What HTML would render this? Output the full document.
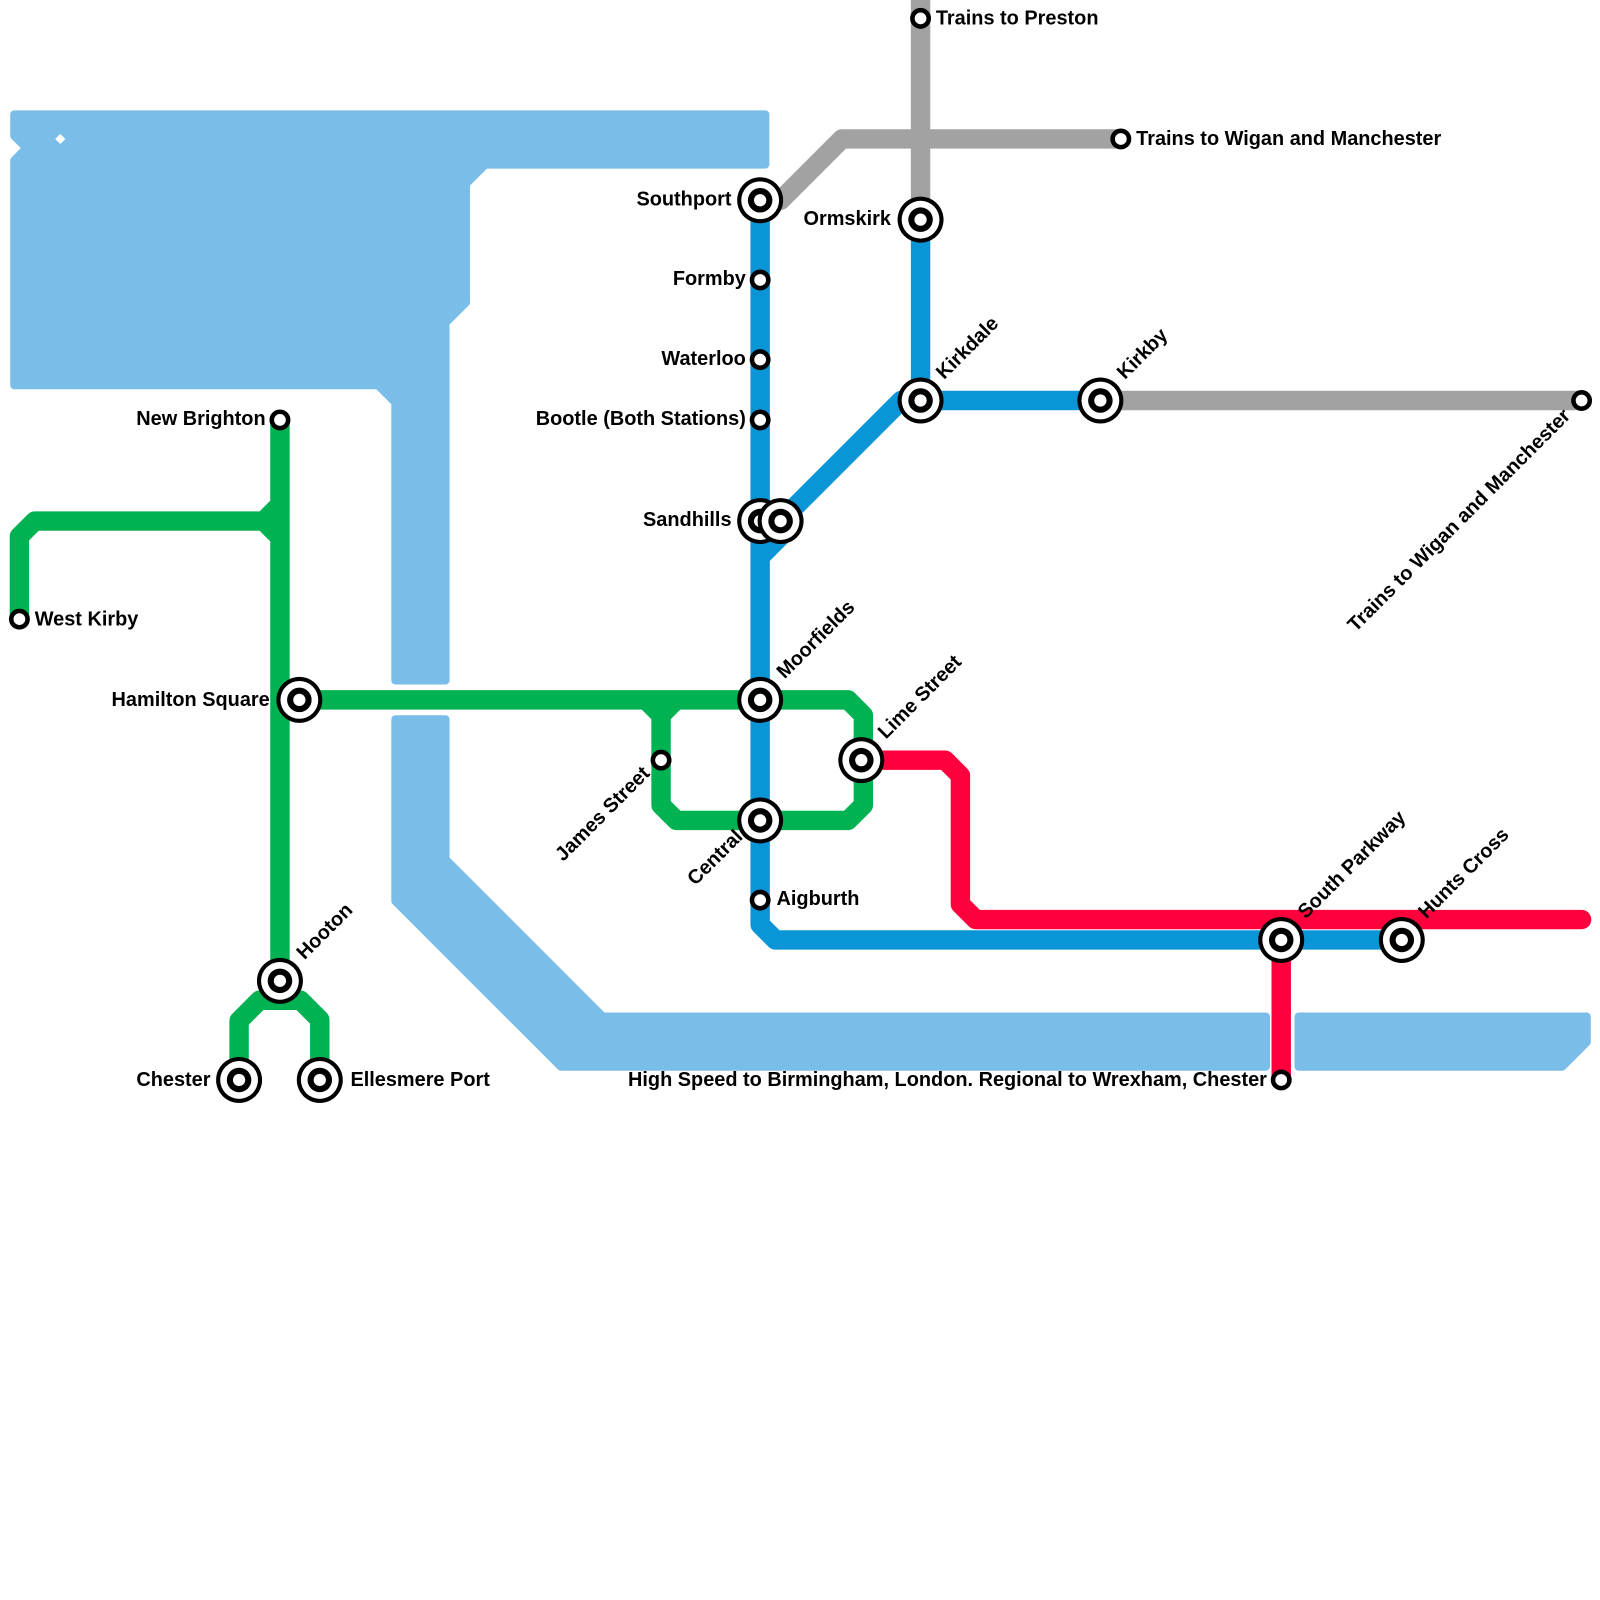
<!DOCTYPE html>
<html><head><meta charset="utf-8"><style>
html,body{margin:0;padding:0;background:#fff;}
svg{display:block;}
text{font-family:"Liberation Sans",Arial,sans-serif;font-weight:bold;font-size:19.5px;fill:#000;}
</style></head><body>
<svg width="1600" height="1600" viewBox="0 0 1566 1566" xmlns="http://www.w3.org/2000/svg">
<g fill="#7abde8" stroke="#7abde8" stroke-width="8" stroke-linejoin="round">
<polygon points="14,112 749,112 749,161 475,161 456,180 456,296 436,316 436,666 387,666 387,394 370,377 14,377 14,157 26,145 14,133"/>
<polygon points="387,704 436,704 436,841 590,995 1239,995 1239,1044 549,1044 387,882"/>
<polygon points="1271,995 1553,995 1553,1020 1529,1044 1271,1044"/>
</g>
<polygon points="59,131 64,136 59,141 54,136" fill="#fff"/>
<g fill="none" stroke-width="19" stroke-linejoin="round" stroke-linecap="round">
<path d="M901,0 L901,215 M744,196 L764,196 L824,136 L1097,136 M1077,392 L1548,392" stroke="#a2a2a2"/>
<path d="M744,196 L744,905 L759,920 L1372,920 M744,545 L764,525 M764,510 L882,392 L901,392 M901,392 L901,215 M901,392 L1077,392" stroke="#0a96d6"/>
<path d="M19,606 L19,525 L34,510 L258,510 L274,494 M258,510 L274,526 M274,411 L274,979 M234,1057 L234,999 L254,979 L294,979 L313,998 L313,1057 M293,685 L830,685 L845,700 L845,788 L830,803 L662,803 L647,788 L647,700 L632,685 M647,700 L662,685" stroke="#00b251"/>
<path d="M843,744 L925,744 L940,759 L940,885 L955,900 L1548,900 M1254,900 L1254,1057" stroke="#ff003c"/>
</g>
<g>
<g transform="translate(744,196)"><circle r="22.5" fill="#000"/><circle r="18.5" fill="#fff"/><circle r="12" fill="#000"/><circle r="6" fill="#fff"/></g>
<g transform="translate(901,215)"><circle r="22.5" fill="#000"/><circle r="18.5" fill="#fff"/><circle r="12" fill="#000"/><circle r="6" fill="#fff"/></g>
<g transform="translate(901,392)"><circle r="22.5" fill="#000"/><circle r="18.5" fill="#fff"/><circle r="12" fill="#000"/><circle r="6" fill="#fff"/></g>
<g transform="translate(1077,392)"><circle r="22.5" fill="#000"/><circle r="18.5" fill="#fff"/><circle r="12" fill="#000"/><circle r="6" fill="#fff"/></g>
<g transform="translate(744,510)"><circle r="22.5" fill="#000"/><circle r="18.5" fill="#fff"/><circle r="12" fill="#000"/><circle r="6" fill="#fff"/></g>
<g transform="translate(764,510)"><circle r="22.5" fill="#000"/><circle r="18.5" fill="#fff"/><circle r="12" fill="#000"/><circle r="6" fill="#fff"/></g>
<g transform="translate(744,685)"><circle r="22.5" fill="#000"/><circle r="18.5" fill="#fff"/><circle r="12" fill="#000"/><circle r="6" fill="#fff"/></g>
<g transform="translate(744,803)"><circle r="22.5" fill="#000"/><circle r="18.5" fill="#fff"/><circle r="12" fill="#000"/><circle r="6" fill="#fff"/></g>
<g transform="translate(843,744)"><circle r="22.5" fill="#000"/><circle r="18.5" fill="#fff"/><circle r="12" fill="#000"/><circle r="6" fill="#fff"/></g>
<g transform="translate(293,685)"><circle r="22.5" fill="#000"/><circle r="18.5" fill="#fff"/><circle r="12" fill="#000"/><circle r="6" fill="#fff"/></g>
<g transform="translate(274,960)"><circle r="22.5" fill="#000"/><circle r="18.5" fill="#fff"/><circle r="12" fill="#000"/><circle r="6" fill="#fff"/></g>
<g transform="translate(234,1057)"><circle r="22.5" fill="#000"/><circle r="18.5" fill="#fff"/><circle r="12" fill="#000"/><circle r="6" fill="#fff"/></g>
<g transform="translate(313,1057)"><circle r="22.5" fill="#000"/><circle r="18.5" fill="#fff"/><circle r="12" fill="#000"/><circle r="6" fill="#fff"/></g>
<g transform="translate(1254,920)"><circle r="22.5" fill="#000"/><circle r="18.5" fill="#fff"/><circle r="12" fill="#000"/><circle r="6" fill="#fff"/></g>
<g transform="translate(1372,920)"><circle r="22.5" fill="#000"/><circle r="18.5" fill="#fff"/><circle r="12" fill="#000"/><circle r="6" fill="#fff"/></g>
</g>
<g fill="#fff" stroke="#000" stroke-width="4.5">
<circle cx="901" cy="18" r="8"/><circle cx="1097" cy="136" r="8"/><circle cx="1548" cy="392" r="8"/>
<circle cx="744" cy="274" r="8"/><circle cx="744" cy="352" r="8"/><circle cx="744" cy="411" r="8"/>
<circle cx="744" cy="881" r="8"/><circle cx="647" cy="744" r="8"/><circle cx="274" cy="411" r="8"/>
<circle cx="19" cy="606" r="8"/><circle cx="1254" cy="1057" r="8"/>
</g>
<text x="916" y="24">Trains to Preston</text>
<text x="1112" y="142">Trains to Wigan and Manchester</text>
<text x="716" y="201" text-anchor="end">Southport</text>
<text x="872" y="220" text-anchor="end">Ormskirk</text>
<text x="730" y="279" text-anchor="end">Formby</text>
<text x="730" y="357" text-anchor="end">Waterloo</text>
<text x="730" y="416" text-anchor="end">Bootle (Both Stations)</text>
<text x="716" y="515" text-anchor="end">Sandhills</text>
<text x="760" y="886">Aigburth</text>
<text x="260" y="416" text-anchor="end">New Brighton</text>
<text x="34" y="612">West Kirby</text>
<text x="264" y="691" text-anchor="end">Hamilton Square</text>
<text x="206" y="1063" text-anchor="end">Chester</text>
<text x="343" y="1063">Ellesmere Port</text>
<text x="1240" y="1063" text-anchor="end">High Speed to Birmingham, London. Regional to Wrexham, Chester</text>
<text transform="translate(924,372) rotate(-45)">Kirkdale</text>
<text transform="translate(1101,372) rotate(-45)">Kirkby</text>
<text transform="translate(768,665) rotate(-45)">Moorfields</text>
<text transform="translate(867,724) rotate(-45)">Lime Street</text>
<text transform="translate(298,940) rotate(-45)">Hooton</text>
<text transform="translate(1278,900) rotate(-45)">South Parkway</text>
<text transform="translate(1396,900) rotate(-45)">Hunts Cross</text>
<text transform="translate(1538,408) rotate(-45)" text-anchor="end">Trains to Wigan and Manchester</text>
<text transform="translate(637,758) rotate(-45)" text-anchor="end">James Street</text>
<text transform="translate(728,820) rotate(-45)" text-anchor="end">Central</text>
</svg>
</body></html>
